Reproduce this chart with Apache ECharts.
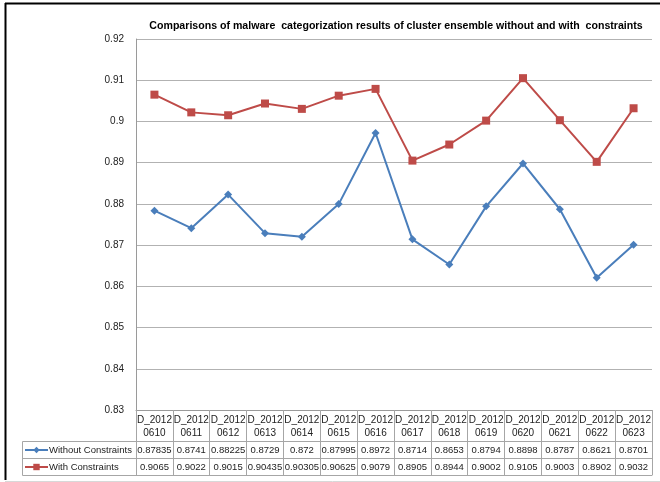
<!DOCTYPE html>
<html>
<head>
<meta charset="utf-8">
<script src="https://cdn.jsdelivr.net/npm/echarts@6/dist/echarts.min.js"></script>
<style>
  html, body { margin: 0; padding: 0; background: #fff; }
  #chart { width: 660px; height: 482px; }
</style>
</head>
<body>
<div id="chart"></div>
<script>
// Dataset days and categorization accuracy for both ensemble variants
const categories = ['D_20120610', 'D_20120611', 'D_20120612', 'D_20120613', 'D_20120614',
  'D_20120615', 'D_20120616', 'D_20120617', 'D_20120618', 'D_20120619', 'D_20120620',
  'D_20120621', 'D_20120622', 'D_20120623'];
const withoutConstraints = ['0.87835', '0.8741', '0.88225', '0.8729', '0.872', '0.87995', '0.8972',
  '0.8714', '0.8653', '0.8794', '0.8898', '0.8787', '0.8621', '0.8701'];
const withConstraints = ['0.9065', '0.9022', '0.9015', '0.90435', '0.90305', '0.90625', '0.9079',
  '0.8905', '0.8944', '0.9002', '0.9105', '0.9003', '0.8902', '0.9032'];
const yTicks = { min: 0.83, max: 0.92, step: 0.01 };

const seriesNames = ['Without Constraints', 'With Constraints'];
const blue = '#4A7EBB', red = '#BE4B48';
const font = 'Liberation Sans, Arial, sans-serif';
const gridLine = '#b2b2b2';
const axisLine = '#9a9a9a';
const cellLine = '#a6a6a6';

const chart = echarts.init(document.getElementById('chart'), null, { renderer: 'canvas' });

// one table row below the plot: a category axis whose labels are the row values
function tableAxis(offset, values, tickLen) {
  return {
    type: 'category', data: categories, gridIndex: 0, position: 'bottom', offset: offset,
    axisLine: { show: true, lineStyle: { color: cellLine, width: 1 } },
    axisTick: { show: tickLen > 0, length: tickLen, interval: 0, lineStyle: { color: cellLine } },
    axisLabel: {
      show: !!values, interval: 0, margin: 4, fontFamily: font, fontSize: 9.5, color: '#222',
      formatter: (v, i) => values ? values[i] : ''
    },
    splitLine: { show: false }
  };
}

chart.setOption({
  animation: false,
  backgroundColor: '#fff',
  title: {
    text: 'Comparisons of malware  categorization results of cluster ensemble without and with  constraints',
    left: 391, top: 16, textAlign: 'center',
    textStyle: { fontFamily: font, fontSize: 10.6, fontWeight: 'bold', color: '#000' }
  },
  legend: seriesNames.map((n, i) => ({
    data: [n], left: 24, top: 445 + i * 17, itemWidth: 23, itemHeight: 8, padding: 0, itemGap: 2,
    textStyle: { fontFamily: font, fontSize: 9.5, color: '#222', padding: [0, 0, 0, -4] }
  })),
  grid: { left: 136, right: 8, top: 39, bottom: 72, containLabel: false },
  xAxis: [
    {
      type: 'category', data: categories, gridIndex: 0, position: 'bottom',
      axisLine: { show: true, lineStyle: { color: axisLine } },
      axisTick: { show: true, length: 31, interval: 0, lineStyle: { color: cellLine } },
      axisLabel: {
        interval: 0, margin: 4, fontFamily: font, fontSize: 10, color: '#222', lineHeight: 13,
        formatter: v => v.slice(0, 6) + '\n' + v.slice(6)
      }
    },
    tableAxis(31, withoutConstraints, 17),
    tableAxis(48, withConstraints, 17),
    tableAxis(65, null, 0)
  ],
  yAxis: {
    type: 'value', min: yTicks.min, max: yTicks.max, interval: yTicks.step,
    axisLine: { show: true, lineStyle: { color: axisLine } },
    axisTick: { show: false },
    axisLabel: {
      margin: 12, fontFamily: font, fontSize: 10, color: '#222',
      formatter: v => String(parseFloat(v.toFixed(2)))
    },
    splitLine: { lineStyle: { color: gridLine, width: 1 } }
  },
  series: [
    {
      name: seriesNames[0], type: 'line', xAxisIndex: 0,
      data: withoutConstraints.map(Number),
      symbol: 'diamond', symbolSize: 8,
      lineStyle: { color: blue, width: 2 }, itemStyle: { color: blue }
    },
    {
      name: seriesNames[1], type: 'line', xAxisIndex: 0,
      data: withConstraints.map(Number),
      symbol: 'rect', symbolSize: 8,
      lineStyle: { color: red, width: 2 }, itemStyle: { color: red }
    }
  ],
  graphic: [
    // outer frame
    { type: 'line', shape: { x1: 5, y1: 3.5, x2: 660, y2: 3.5 }, style: { stroke: '#000', lineWidth: 2 } },
    { type: 'line', shape: { x1: 5.5, y1: 3, x2: 5.5, y2: 480 }, style: { stroke: '#000', lineWidth: 2 } },
    { type: 'line', shape: { x1: 5, y1: 481.5, x2: 660, y2: 481.5 }, style: { stroke: '#d8d8d8', lineWidth: 1 } },
    // legend column of the data table
    { type: 'line', shape: { x1: 22.5, y1: 441.5, x2: 136, y2: 441.5 }, style: { stroke: cellLine, lineWidth: 1 } },
    { type: 'line', shape: { x1: 22.5, y1: 458.5, x2: 136, y2: 458.5 }, style: { stroke: cellLine, lineWidth: 1 } },
    { type: 'line', shape: { x1: 22.5, y1: 475.5, x2: 136, y2: 475.5 }, style: { stroke: cellLine, lineWidth: 1 } },
    { type: 'line', shape: { x1: 22.5, y1: 441.5, x2: 22.5, y2: 475.5 }, style: { stroke: cellLine, lineWidth: 1 } }
  ]
});
</script>
</body>
</html>
